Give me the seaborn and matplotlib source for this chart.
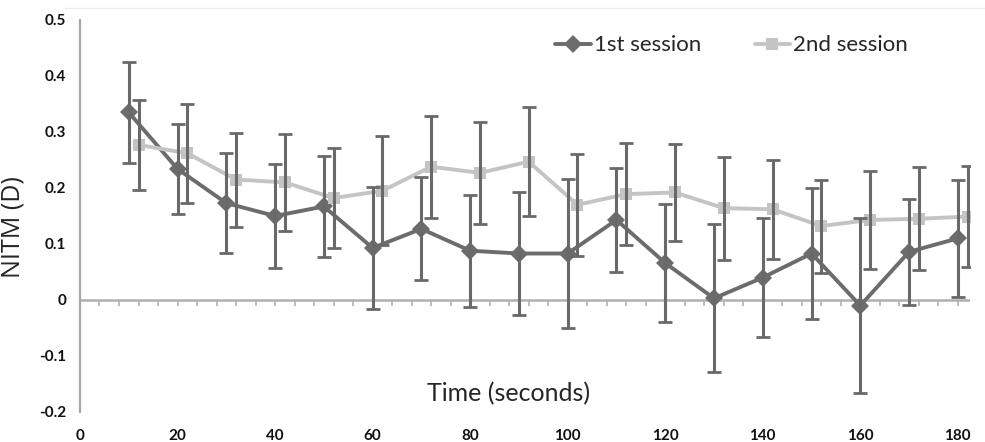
import matplotlib
matplotlib.use("Agg")
import matplotlib.pyplot as plt
import seaborn as sns
import numpy as np
import pandas as pd
from matplotlib.lines import Line2D

# data
time_1st = [10, 20, 30, 40, 50, 60, 70, 80, 90, 100, 110, 120, 130, 140, 150, 160, 170, 180]
time_2nd = [12, 22, 32, 42, 52, 62, 72, 82, 92, 102, 112, 122, 132, 142, 152, 162, 172, 182]
nitm_1st = [0.335, 0.234, 0.173, 0.150, 0.167, 0.093, 0.127, 0.088, 0.083, 0.083,
            0.143, 0.066, 0.003, 0.040, 0.083, -0.010, 0.086, 0.110]
err_1st = [0.090, 0.080, 0.089, 0.092, 0.090, 0.109, 0.092, 0.100, 0.110, 0.133,
           0.093, 0.106, 0.132, 0.106, 0.117, 0.156, 0.095, 0.105]
nitm_2nd = [0.277, 0.262, 0.215, 0.210, 0.182, 0.195, 0.238, 0.227, 0.247, 0.170,
            0.189, 0.192, 0.164, 0.162, 0.132, 0.143, 0.145, 0.149]
err_2nd = [0.080, 0.088, 0.084, 0.087, 0.090, 0.097, 0.091, 0.091, 0.097, 0.091,
           0.091, 0.087, 0.092, 0.088, 0.083, 0.087, 0.092, 0.090]
sessions = ['1st session', '2nd session']

df = pd.concat([
    pd.DataFrame({'Time': time_1st, 'NITM': nitm_1st, 'err': err_1st, 'Session': sessions[0]}),
    pd.DataFrame({'Time': time_2nd, 'NITM': nitm_2nd, 'err': err_2nd, 'Session': sessions[1]}),
], ignore_index=True)

sns.set_style('white')
plt.rcParams['font.family'] = ['Lato', 'DejaVu Sans']

palette = {'1st session': '#6c6c6c', '2nd session': '#c4c4c4'}
markers = {'1st session': 'D', '2nd session': 's'}

fig = plt.figure(figsize=(9.85, 4.42), dpi=100)
ax = fig.add_axes([0.0812, 0.0679, 0.9036, 0.8869])

sns.lineplot(data=df, x='Time', y='NITM', hue='Session', style='Session',
             palette=palette, markers=markers, dashes=False, linewidth=2.8,
             markersize=9, markeredgewidth=0, ax=ax, zorder=3)

# error bars (dark gray for both sessions)
for s in sessions:
    sub = df[df['Session'] == s]
    ax.errorbar(sub['Time'], sub['NITM'], yerr=sub['err'], fmt='none',
                ecolor='#696969', elinewidth=2.2, capsize=5, capthick=2.0, zorder=4)

ax.set_xlim(0, 182.5)
ax.set_ylim(-0.2, 0.5)
ax.set_yticks(np.arange(-0.2, 0.51, 0.1))
ax.set_yticklabels(['-0.2', '-0.1', '0', '0.1', '0.2', '0.3', '0.4', '0.5'])
ax.set_xticks(np.arange(0, 181, 20))

for sp in ['top', 'right', 'bottom']:
    ax.spines[sp].set_visible(False)
ax.spines['left'].set_color('#a8a8a8')
ax.spines['left'].set_linewidth(1.6)

ax.tick_params(axis='y', length=5, width=1.4, color='#a8a8a8', pad=5,
               labelsize=11, labelcolor='#111111')
ax.tick_params(axis='x', length=0, pad=12, labelsize=11, labelcolor='#111111')
for lab in ax.get_xticklabels() + ax.get_yticklabels():
    lab.set_fontweight('bold')

# horizontal axis line at zero with small ticks
ax.axhline(0, color='#b0b0b0', linewidth=1.8, zorder=1)
sec = ax.secondary_xaxis(0.2 / 0.7)
sec.spines['bottom'].set_visible(False)
sec.set_xticks(np.arange(0, 183, 4))
sec.tick_params(axis='x', length=4, width=1.2, color='#b0b0b0', labelbottom=False)

ax.set_xlabel('')
ax.set_ylabel('NITM (D)', fontsize=18, family=['Open Sans', 'DejaVu Sans'])
ax.yaxis.set_label_coords(-0.0607, 0.472)
ax.text(0.481, 0.047, 'Time (seconds)', transform=ax.transAxes, ha='center',
        va='center', fontsize=18)

ax.legend(loc='center right', bbox_to_anchor=(0.953, 0.935), ncol=2, frameon=False,
          fontsize=16, handlelength=1.6, columnspacing=2.4, handletextpad=0.15)

fig.add_artist(Line2D([0.066, 1.0], [0.982, 0.982], color='#ececec', linewidth=1.0))

plt.savefig('out.png', dpi=100)
